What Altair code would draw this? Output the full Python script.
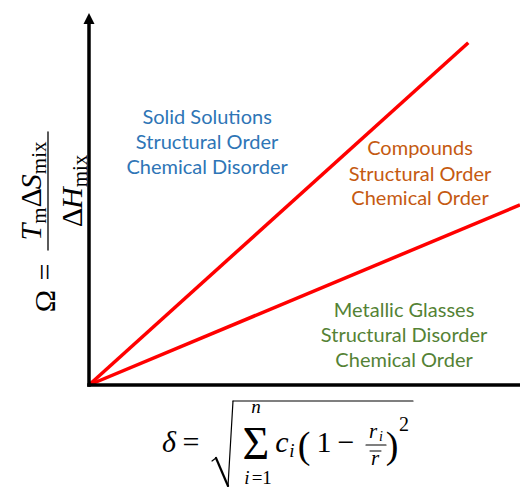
import altair as alt
import pandas as pd

# Phase-selection map: mixing ratio Omega against atomic-size mismatch delta.
# Two boundary lines through the origin (normalised units).
boundary = ["upper", "upper", "lower", "lower"]
delta_vals = [0.0, 0.88, 0.0, 1.0]
omega_vals = [0.0, 0.92, 0.0, 0.484]

# Region captions, one row per text line
region_text = ["Solid Solutions", "Structural Order", "Chemical Disorder",
               "Compounds", "Structural Order", "Chemical Order",
               "Metallic Glasses", "Structural Disorder", "Chemical Order"]
region_group = ["solid"] * 3 + ["compound"] * 3 + ["glass"] * 3
region_delta = [0.274] * 3 + [0.768] * 3 + [0.731] * 3
region_omega = [0.702, 0.634, 0.567, 0.618, 0.548, 0.484, 0.183, 0.116, 0.048]

groups = ["solid", "compound", "glass"]
group_colors = ["#2E75B6", "#C55A11", "#548235"]

lines_df = pd.DataFrame({"boundary": boundary, "delta": delta_vals, "omega": omega_vals})
regions_df = pd.DataFrame({"text": region_text, "group": region_group,
                           "delta": region_delta, "omega": region_omega})

# plot area placement on the page
L, T, W, H = 89, 13, 431, 372
SERIF = "Liberation Serif"

xs = alt.Scale(domain=[0, 1])
ys = alt.Scale(domain=[0, 1])


def one():
    return alt.Chart(alt.Data(values=[{}]))


def glyph(s, X, Y, size, italic=False, angle=0, align="center"):
    return one().mark_text(
        text=s, font=SERIF, fontSize=size,
        fontStyle="italic" if italic else "normal",
        angle=angle, align=align, baseline="alphabetic", color="black",
    ).encode(x=alt.value(X - L), y=alt.value(Y - T))


def stroke(X1, Y1, X2, Y2, w):
    return one().mark_rule(color="black", strokeWidth=w, strokeCap="round").encode(
        x=alt.value(X1 - L), y=alt.value(Y1 - T),
        x2=alt.value(X2 - L), y2=alt.value(Y2 - T))


# approximate advance widths (em) for sequential layout of formula pieces
EM = {("T", True): 0.556, ("m", False): 0.778, ("Δ", False): 0.612,
      ("S", True): 0.5, ("mix", False): 1.556, ("H", True): 0.722}


def vertical_run(seq, base_x, center_y):
    """Lay out pieces reading bottom-to-top (rotated 270 degrees)."""
    total = sum(EM[(s, it)] * sz for s, sz, it, sh in seq)
    y = center_y + total / 2
    out = []
    for s, sz, it, sh in seq:
        out.append(glyph(s, base_x + sh, y, sz, it, angle=270, align="left"))
        y -= EM[(s, it)] * sz
    return out


# --- data layers ---
lines = alt.Chart(lines_df).mark_line(color="#FF0000", strokeWidth=3.5).encode(
    x=alt.X("delta:Q", scale=xs, axis=None),
    y=alt.Y("omega:Q", scale=ys, axis=None),
    detail="boundary:N",
)

regions = alt.Chart(regions_df).mark_text(
    font="Lato", fontSize=20, align="center", baseline="alphabetic"
).encode(
    x=alt.X("delta:Q", scale=xs, axis=None),
    y=alt.Y("omega:Q", scale=ys, axis=None),
    text="text:N",
    color=alt.Color("group:N", scale=alt.Scale(domain=groups, range=group_colors), legend=None),
)

# --- axis arrows ---
y_axis = one().mark_rule(color="black", strokeWidth=3.5, strokeCap="square").encode(
    x=alt.datum(0, scale=xs), y=alt.datum(0, scale=ys), y2=alt.datum(0.975))
x_axis = one().mark_rule(color="black", strokeWidth=3.5, strokeCap="square").encode(
    x=alt.datum(0, scale=xs), x2=alt.datum(1.02), y=alt.datum(0, scale=ys))
y_head = one().mark_point(
    shape="M-1,1L0,-1L1,1Z", size=121, filled=True, color="black", opacity=1
).encode(x=alt.datum(0, scale=xs), y=alt.datum(0.9855, scale=ys))

# --- y title: Omega = T_m dS_mix / dH_mix (rotated) ---
ylab = [
    glyph("Ω", 55, 301, 30, angle=270),
    glyph("=", 55, 272, 30, angle=270),
    stroke(48, 132, 48, 250, 1.3),
]
ylab += vertical_run([("T", 30, True, 0), ("m", 21, False, 5), ("Δ", 30, False, 0),
                      ("S", 30, True, 0), ("mix", 21, False, 5)], 41, 191)
ylab += vertical_run([("Δ", 30, False, 0), ("H", 30, True, 0), ("mix", 21, False, 5)], 82, 191)

# --- x title: delta = sqrt( sum c_i (1 - r_i / rbar)^2 ) ---
BL = 452
xlab = [
    glyph("δ", 169, BL, 30, italic=True),
    glyph("=", 191, BL, 30),
    stroke(212, 461, 216, 458, 1.2),
    stroke(216, 458, 228, 486, 2.2),
    stroke(228, 486, 233, 401, 1.2),
    stroke(233, 401, 413, 401, 1.2),
    glyph("n", 256, 413, 19, italic=True),
    glyph("Σ", 256, 459, 46),
    glyph("i", 247, 484, 19, italic=True),
    glyph("=", 257, 484, 19),
    glyph("1", 267, 484, 19),
    glyph("c", 282, BL, 30, italic=True),
    glyph("i", 292, BL + 5, 19, italic=True),
    glyph("(", 304, BL + 6, 38),
    glyph("1", 324, BL, 30),
    glyph("−", 346, BL, 30),
    glyph("r", 373, 438, 21, italic=True),
    glyph("i", 381, 441, 14, italic=True),
    stroke(366, 445, 386, 445, 1.2),
    glyph("r", 375, 465, 21, italic=True),
    stroke(370, 451, 381, 451, 1.0),
    glyph(")", 392, BL + 6, 38),
    glyph("2", 404, 431, 20),
]

chart = alt.layer(
    lines, regions, y_axis, x_axis, y_head, *ylab, *xlab
).properties(
    width=W, height=H,
    padding={"left": L, "top": T, "right": 520 - L - W, "bottom": 487 - T - H},
    autosize=alt.AutoSizeParams(type="none"),
    background="white",
).configure_view(stroke=None)

chart.save("out.html", embed_options={"renderer": "svg", "actions": False})
